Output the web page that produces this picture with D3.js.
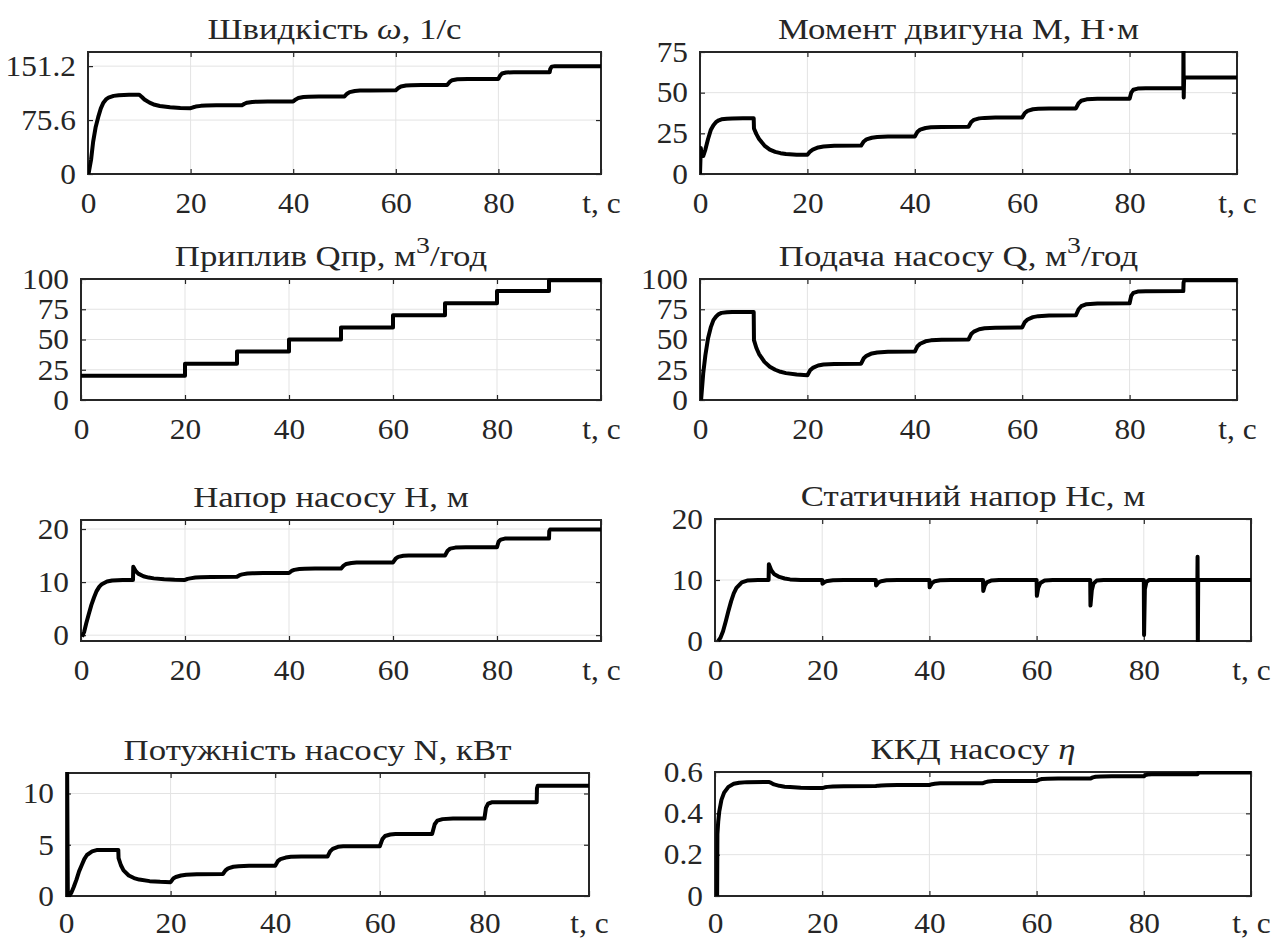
<!DOCTYPE html>
<html lang="uk">
<head>
<meta charset="utf-8">
<title>Перехідні процеси насосної установки</title>
<script src="https://cdn.jsdelivr.net/npm/d3@7/dist/d3.min.js"></script>
<style>
  html, body { margin: 0; padding: 0; background: #fff; }
  svg { display: block; }
</style>
</head>
<body>
<svg id="chart" width="1271" height="940"></svg>
<script>
// ---- data ----
const xTicks = [0, 20, 40, 60, 80, 100];
const xTickLabels = ["0", "20", "40", "60", "80", "t, с"];

// speed, 1/s
const speedT = [0.1, 0.6, 1, 1.5, 2, 2.5, 3, 3.5, 4, 5, 6, 8, 10, 10.5, 11, 12, 13, 14, 16, 18, 20, 20.5, 21, 22, 23, 25, 30, 30.5, 31, 32, 33, 35, 40, 40.5, 41, 42, 43, 45, 50, 50.5, 51, 52, 53, 55, 60, 60.5, 61, 62, 63, 65, 70, 70.5, 71, 72, 74, 80, 80.3, 80.7, 81.5, 83, 90, 90.1, 90.4, 91, 100];
const speedV = [0, 20, 45, 66, 80, 92, 100, 104.5, 107, 109.5, 110.5, 111, 111, 108, 104.5, 100, 97, 95.3, 93.5, 92.6, 92.2, 93.5, 94.5, 95.5, 95.9, 96.2, 96.3, 98.5, 100, 101, 101.4, 101.6, 101.7, 104.5, 106.5, 108, 108.4, 108.6, 108.7, 112.5, 114.8, 116.4, 116.9, 117.2, 117.3, 120.5, 122.7, 124.1, 124.5, 124.7, 124.8, 129, 131.5, 132.7, 133.1, 133.2, 137.5, 140.8, 142.3, 142.6, 142.7, 147, 150.5, 151.2, 151.2];
const speedLim = [0, 171];
const speedTicks = [0, 75.6, 151.2];

// motor torque, N*m
const torqueT = [0, 0.15, 0.35, 0.6, 1, 1.5, 2, 2.5, 3, 3.5, 4, 5, 6, 8, 10, 10.05, 10.5, 11, 12, 13, 14, 15, 16, 18, 20, 20.5, 21, 22, 23, 25, 30, 30.5, 31, 32, 33, 35, 40, 40.5, 41, 42, 43, 45, 50, 50.5, 51, 52, 53, 55, 60, 60.5, 61, 62, 63, 65, 70, 70.5, 71, 72, 74, 80, 80.3, 80.7, 81.5, 83, 90, 90.03, 90.08, 90.15, 100];
const torqueV = [0, 16, 11, 11, 15, 21.5, 27, 30, 32, 33, 33.6, 34, 34.1, 34.2, 34.2, 28, 24.5, 21.5, 17.5, 15, 13.6, 12.8, 12.3, 11.9, 11.8, 13.8, 15, 16.3, 16.9, 17.3, 17.5, 20, 21.3, 22.3, 22.7, 23, 23.1, 26, 27.3, 28.3, 28.7, 28.9, 29, 32, 33.3, 34.2, 34.5, 34.7, 34.8, 37.5, 38.8, 39.8, 40.1, 40.3, 40.3, 43.5, 45, 45.9, 46.2, 46.3, 50, 51.8, 52.5, 52.7, 52.8, 85, 47, 59.3, 59.3];
const torqueLim = [0, 75];
const torqueTicks = [0, 25, 50, 75];

// inflow, m3/h
const inflowT = [0, 20, 20, 30, 30, 40, 40, 50, 50, 60, 60, 70, 70, 80, 80, 90, 90, 100];
const inflowV = [20, 20, 30, 30, 40, 40, 50, 50, 60, 60, 70, 70, 80, 80, 90, 90, 99, 99];
const inflowLim = [0, 100];
const inflowTicks = [0, 25, 50, 75, 100];

// pump flow, m3/h
const flowT = [0.2, 0.6, 1, 1.5, 2, 2.5, 3, 3.5, 4, 5, 6, 10, 10.05, 10.5, 11, 12, 13, 14, 15, 16, 18, 20, 20.5, 21, 22, 23, 25, 30, 30.5, 31, 32, 33, 35, 40, 40.5, 41, 42, 43, 45, 50, 50.5, 51, 52, 53, 55, 60, 60.5, 61, 62, 63, 65, 70, 70.5, 71, 72, 74, 80, 80.3, 80.7, 81.5, 83, 90, 90.05, 90.2, 100];
const flowV = [0, 22, 37, 51, 60, 66, 69, 71, 72, 72.6, 72.8, 72.8, 49.5, 43, 38, 31.5, 27.5, 25, 23.3, 22.2, 21, 20.5, 24.5, 26.5, 28.5, 29.3, 29.8, 30, 34.5, 36.5, 38.5, 39.3, 39.8, 40, 44.5, 46.5, 48.5, 49.3, 49.8, 50, 54.5, 56.5, 58.5, 59.3, 59.8, 60, 64.5, 66.5, 68.5, 69.3, 69.8, 70, 75, 77.5, 79.2, 79.8, 80, 86, 88.5, 89.6, 89.9, 90, 97, 99, 99];
const flowLim = [0, 100];
const flowTicks = [0, 25, 50, 75, 100];

// pump head, m
const headT = [0.2, 0.6, 1, 1.5, 2, 2.5, 3, 3.5, 4, 5, 6, 8, 10, 10.05, 10.5, 11, 12, 13, 14, 16, 18, 20, 20.5, 21, 22, 23, 25, 30, 30.5, 31, 32, 33, 35, 40, 40.5, 41, 42, 43, 45, 50, 50.5, 51, 52, 53, 55, 60, 60.5, 61, 62, 63, 65, 70, 70.5, 71, 72, 74, 80, 80.3, 80.7, 81.5, 83, 90, 90.05, 90.2, 100];
const headV = [-0.3, 0.6, 2.2, 4, 5.7, 7.1, 8.3, 9.1, 9.6, 10.1, 10.3, 10.4, 10.4, 12.9, 12.1, 11.6, 11.1, 10.85, 10.7, 10.55, 10.45, 10.4, 10.6, 10.7, 10.85, 10.9, 10.95, 11, 11.3, 11.45, 11.6, 11.65, 11.7, 11.7, 12.1, 12.3, 12.45, 12.5, 12.55, 12.55, 13.1, 13.4, 13.6, 13.7, 13.7, 13.7, 14.4, 14.75, 14.95, 15, 15, 15, 15.9, 16.3, 16.5, 16.55, 16.55, 17.6, 18, 18.2, 18.2, 18.2, 19.6, 19.9, 19.9];
const headLim = [-1.1, 21.7];
const headTicks = [0, 10, 20];

// static head, m
const staticT = [0.6, 1, 1.5, 2, 2.5, 3, 3.5, 4, 5, 6, 8, 10, 10.05, 10.5, 11, 12, 13, 14, 16, 20, 20.05, 20.5, 21, 22, 24, 30, 30.05, 30.5, 31, 32, 34, 40, 40.05, 40.5, 41, 42, 44, 50, 50.05, 50.3, 50.7, 51.5, 53, 60, 60.05, 60.3, 60.7, 61.5, 63, 70, 70.05, 70.3, 70.6, 71.2, 72.5, 80, 80.05, 80.2, 80.5, 81, 90, 90.03, 90.08, 90.15, 100];
const staticV = [0, 0.5, 1.6, 3.2, 4.9, 6.5, 7.8, 8.7, 9.6, 9.9, 10, 10, 12.6, 11.6, 11, 10.5, 10.25, 10.1, 10, 10, 9.4, 9.7, 9.85, 9.95, 10, 10, 9.1, 9.6, 9.8, 9.95, 10, 10, 8.8, 9.5, 9.8, 9.95, 10, 10, 8.2, 9, 9.6, 9.9, 10, 10, 7.4, 8.7, 9.5, 9.9, 10, 10, 5.8, 8.3, 9.4, 9.9, 10, 10, 1, 8.5, 9.7, 10, 10, 13.8, -1, 10, 10];
const staticLim = [0, 20];
const staticTicks = [0, 10, 20];

// pump power, kW
const powerT = [0.1, 0.2, 0.35, 0.6, 1, 1.5, 2, 2.5, 3, 3.5, 4, 5, 6, 10, 10.05, 10.5, 11, 12, 13, 14, 16, 18, 20, 20.5, 21, 22, 23, 25, 30, 30.5, 31, 32, 33, 35, 40, 40.5, 41, 42, 43, 45, 50, 50.5, 51, 52, 53, 55, 60, 60.5, 61, 62, 63, 65, 70, 70.5, 71, 72, 74, 80, 80.3, 80.7, 81.5, 83, 90, 90.05, 90.2, 100];
const powerV = [0, 14, 0, 0, 0.3, 0.9, 1.6, 2.4, 3.0, 3.6, 4.0, 4.35, 4.5, 4.5, 3.7, 3.0, 2.5, 2.0, 1.75, 1.6, 1.45, 1.38, 1.35, 1.7, 1.85, 2.0, 2.08, 2.12, 2.15, 2.5, 2.7, 2.85, 2.9, 2.95, 2.95, 3.4, 3.6, 3.75, 3.82, 3.85, 3.85, 4.35, 4.6, 4.8, 4.85, 4.85, 4.85, 5.55, 5.85, 6.0, 6.05, 6.05, 6.05, 7.0, 7.35, 7.5, 7.55, 7.55, 8.6, 9.0, 9.15, 9.15, 9.15, 10.5, 10.75, 10.75];
const powerLim = [0, 12];
const powerTicks = [0, 5, 10];

// pump efficiency
const effT = [0.4, 0.45, 0.6, 0.8, 1.2, 1.7, 2.5, 3.5, 4.5, 6, 10, 10.5, 11, 12, 13, 14, 16, 18, 20, 20.5, 21, 22, 24, 30, 30.5, 31, 32, 34, 40, 40.5, 41, 42, 44, 50, 50.5, 51, 52, 54, 60, 60.5, 61, 62, 64, 70, 70.5, 71, 72, 74, 80, 80.3, 80.7, 81.5, 90, 90.1, 90.4, 100];
const effV = [0, 0.3, 0.36, 0.41, 0.465, 0.5, 0.528, 0.543, 0.548, 0.551, 0.552, 0.547, 0.54, 0.533, 0.529, 0.527, 0.524, 0.523, 0.522, 0.526, 0.528, 0.530, 0.531, 0.532, 0.534, 0.535, 0.536, 0.537, 0.537, 0.541, 0.543, 0.545, 0.546, 0.546, 0.551, 0.554, 0.556, 0.557, 0.557, 0.563, 0.566, 0.567, 0.568, 0.568, 0.574, 0.577, 0.578, 0.579, 0.579, 0.585, 0.588, 0.589, 0.589, 0.595, 0.597, 0.597];
const effLim = [0, 0.6];
const effTicks = [0, 0.2, 0.4, 0.6];

// titles: [text, style] pieces
const titles = [
  [["Швидкість "], ["ω", "it"], [", 1/с"]],
  [["Момент двигуна М, Н·м"]],
  [["Приплив Qпр, м"], ["3", "sup"], ["/год"]],
  [["Подача насосу Q, м"], ["3", "sup"], ["/год"]],
  [["Напор насосу Н, м"]],
  [["Статичний напор Нс, м"]],
  [["Потужність насосу N, кВт"]],
  [["ККД насосу "], ["η", "it"]]
];

const panels = [
  {t: speedT, v: speedV, lim: speedLim, ticks: speedTicks},
  {t: torqueT, v: torqueV, lim: torqueLim, ticks: torqueTicks},
  {t: inflowT, v: inflowV, lim: inflowLim, ticks: inflowTicks},
  {t: flowT, v: flowV, lim: flowLim, ticks: flowTicks},
  {t: headT, v: headV, lim: headLim, ticks: headTicks},
  {t: staticT, v: staticV, lim: staticLim, ticks: staticTicks},
  {t: powerT, v: powerV, lim: powerLim, ticks: powerTicks},
  {t: effT, v: effV, lim: effLim, ticks: effTicks}
];

// ---- layout: axes boxes [left, top, right, bottom] ----
const boxes = [
  [88, 52, 601, 174],
  [700, 52, 1237, 174],
  [81, 279, 601, 400],
  [700, 279, 1237, 400],
  [81, 520, 601, 641],
  [715, 519, 1251, 641],
  [66, 773, 589, 896],
  [715, 772, 1251, 896]
];

const ink = "#262626";
const font = "'Liberation Serif', 'Times New Roman', Times, serif";
const tickFont = 29, tickSX = 1.08;
const titleFont = 30, titleSX = 1.16;

const svg = d3.select("#chart");
svg.append("rect").attr("width", 1271).attr("height", 940).attr("fill", "#fff");

function styleAxis(g) {
  g.select(".domain").remove();
  g.attr("color", ink)
    .attr("font-family", font)
    .attr("font-size", tickFont);
  g.selectAll(".tick line").attr("stroke-width", 1.2);
  g.selectAll(".tick text")
    .attr("fill", ink)
    .attr("font-family", font)
    .attr("transform", `scale(${tickSX},1)`);
}

panels.forEach((p, i) => {
  const [L, T, R, B] = boxes[i];
  const x = d3.scaleLinear().domain([0, 100]).range([L, R]);
  const y = d3.scaleLinear().domain(p.lim).range([B, T]);
  const g = svg.append("g");
  const lastRow = i >= 6;

  // grid
  g.append("g").selectAll("line")
    .data(xTicks.filter(d => d > 0 && d < 100))
    .join("line")
    .attr("x1", d => x(d)).attr("x2", d => x(d))
    .attr("y1", T).attr("y2", B)
    .attr("stroke", "#e3e3e3").attr("stroke-width", 1);
  g.append("g").selectAll("line")
    .data(p.ticks.filter(d => y(d) > T + 1 && y(d) < B - 1))
    .join("line")
    .attr("x1", L).attr("x2", R)
    .attr("y1", d => y(d)).attr("y2", d => y(d))
    .attr("stroke", "#e3e3e3").attr("stroke-width", 1);

  // ticks + labels
  g.append("g").attr("transform", `translate(0,${B})`)
    .call(d3.axisBottom(x).tickValues(xTicks)
      .tickFormat((d, k) => xTickLabels[k])
      .tickSizeInner(-5).tickSizeOuter(0).tickPadding(lastRow ? 16 : 18))
    .call(styleAxis);
  g.append("g").attr("transform", `translate(0,${T})`)
    .call(d3.axisTop(x).tickValues(xTicks).tickFormat("")
      .tickSizeInner(-5).tickSizeOuter(0))
    .call(styleAxis);
  g.append("g").attr("transform", `translate(${L},0)`)
    .call(d3.axisLeft(y).tickValues(p.ticks).tickFormat(d3.format("~g"))
      .tickSizeInner(-5).tickSizeOuter(0).tickPadding(12 / tickSX))
    .call(styleAxis);
  g.append("g").attr("transform", `translate(${R},0)`)
    .call(d3.axisRight(y).tickValues(p.ticks).tickFormat("")
      .tickSizeInner(-5).tickSizeOuter(0))
    .call(styleAxis);

  // box
  g.append("rect")
    .attr("x", L).attr("y", T)
    .attr("width", R - L).attr("height", B - T)
    .attr("fill", "none").attr("stroke", ink).attr("stroke-width", 2);

  // data line
  const clipId = "clip" + i;
  svg.append("clipPath").attr("id", clipId)
    .append("rect").attr("x", L).attr("y", T - 1)
    .attr("width", R - L + 1).attr("height", B - T + 2);

  const line = d3.line()
    .x((d, k) => x(p.t[k]))
    .y(d => y(d));
  g.append("path")
    .datum(p.v)
    .attr("d", line)
    .attr("fill", "none")
    .attr("stroke", "#000")
    .attr("stroke-width", 4)
    .attr("stroke-linejoin", "round")
    .attr("clip-path", `url(#${clipId})`);

  // title
  const title = g.append("text")
    .attr("transform", `translate(${(L + R) / 2 - 10},${T - 13}) scale(${titleSX},1)`)
    .attr("text-anchor", "middle")
    .attr("font-family", font)
    .attr("font-size", titleFont)
    .attr("fill", ink);
  let raised = false;
  titles[i].forEach(([txt, kind]) => {
    const ts = title.append("tspan").text(txt);
    if (kind === "it") ts.attr("font-style", "italic");
    if (kind === "sup") {
      ts.attr("font-size", 24).attr("dy", -13);
      raised = true;
    } else if (raised) {
      ts.attr("dy", 13);
      raised = false;
    }
  });
});
</script>
</body>
</html>
